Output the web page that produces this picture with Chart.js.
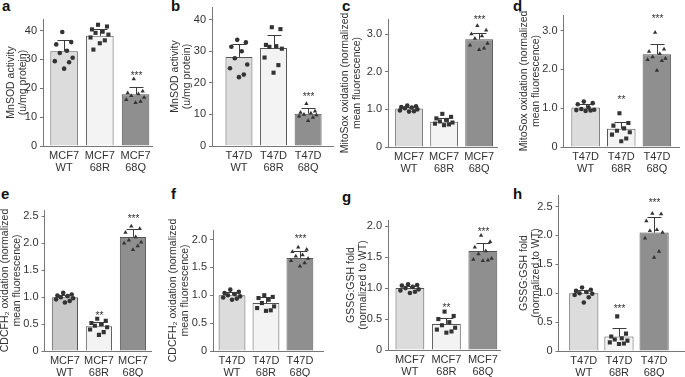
<!DOCTYPE html>
<html>
<head>
<meta charset="utf-8">
<script src="https://cdn.jsdelivr.net/npm/chart.js@4.4.0/dist/chart.umd.min.js"></script>
<style>
  body { margin: 0; background: #fff; width: 685px; height: 377px; position: relative; overflow: hidden;
         font-family: 'Liberation Sans', Arial, sans-serif; }
  .letter { position: absolute; font-weight: bold; font-size: 15px; line-height: 15px; color: #111; }
  canvas { position: absolute; }
</style>
</head>
<body>
<script>
// ---- data ----
const mcf7Labels = [['MCF7', 'WT'], ['MCF7', '68R'], ['MCF7', '68Q']];
const t47dLabels = [['T47D', 'WT'], ['T47D', '68R'], ['T47D', '68Q']];

const ticksActivity = [0, 10, 20, 30, 40];
const ticksMito = [0, 1, 2, 3];
const ticksHalf25 = [0, 0.5, 1, 1.5, 2, 2.5];
const ticksHalf20 = [0, 0.5, 1, 1.5, 2];

// a  MnSOD activity, MCF7
const aMeans = [32.8, 38.2, 17.9];
const aSD = [4.0, 2.2, 2.4];
const aWT = [39.5, 36.0, 35.2, 33.0, 32.2, 30.6, 29.4, 29.0, 26.8];
const a68R = [42.0, 41.4, 40.4, 39.6, 39.2, 38.6, 37.6, 36.6, 35.6, 33.4];
const a68Q = [23.2, 19.0, 18.4, 18.0, 17.4, 16.8, 16.0, 15.4, 15.0];
const aStars = ['', '', '***'];

// b  MnSOD activity, T47D
const bMeans = [28.2, 31.0, 10.2];
const bSD = [4.2, 4.2, 1.8];
const bWT = [33.6, 32.8, 31.4, 30.0, 27.8, 25.8, 24.6, 22.6, 21.8];
const b68R = [37.6, 37.0, 32.0, 31.6, 31.4, 30.8, 28.0, 25.6, 23.2];
const b68Q = [13.4, 11.0, 10.6, 10.4, 10.0, 9.8, 9.4, 9.0, 8.0];
const bStars = ['', '', '***'];

// c  MitoSox, MCF7
const cMeans = [1.02, 0.67, 2.86];
const cSD = [0.04, 0.10, 0.18];
const cWT = [1.10, 1.08, 1.06, 1.05, 1.03, 1.00, 0.97, 0.95, 0.94];
const c68R = [0.88, 0.80, 0.76, 0.72, 0.68, 0.65, 0.62, 0.60, 0.58];
const c68Q = [3.22, 3.10, 3.00, 2.95, 2.88, 2.75, 2.70, 2.62, 2.58];
const cStars = ['', '', '***'];

// d  MitoSox, T47D
const dMeans = [1.02, 0.47, 2.39];
const dSD = [0.08, 0.18, 0.26];
const dWT = [1.17, 1.13, 1.10, 1.02, 0.98, 0.96, 0.95, 0.94, 0.93];
const d68R = [0.87, 0.62, 0.55, 0.48, 0.42, 0.38, 0.32, 0.22, 0.15];
const d68Q = [2.95, 2.52, 2.46, 2.40, 2.32, 2.28, 2.25, 2.22, 1.97];
const dStars = ['', '**', '***'];

// e  CDCFH2, MCF7
const eMeans = [1.00, 0.46, 2.12];
const eSD = [0.04, 0.08, 0.14];
const eWT = [1.08, 1.05, 1.03, 1.02, 1.00, 0.98, 0.96, 0.93, 0.90];
const e68R = [0.60, 0.56, 0.52, 0.50, 0.47, 0.44, 0.40, 0.35, 0.30];
const e68Q = [2.32, 2.27, 2.20, 2.12, 2.06, 2.02, 2.00, 1.95, 1.88];
const eStars = ['', '**', '***'];

// f  CDCFH2, T47D
const fMeans = [1.00, 0.86, 1.67];
const fSD = [0.05, 0.11, 0.13];
const fWT = [1.10, 1.06, 1.04, 1.02, 1.00, 0.98, 0.96, 0.94, 0.92];
const f68R = [1.00, 0.97, 0.95, 0.92, 0.86, 0.80, 0.77, 0.73, 0.72];
const f68Q = [1.86, 1.82, 1.78, 1.72, 1.70, 1.66, 1.62, 1.58, 1.52];
const fStars = ['', '', '***'];

// g  GSSG:GSH, MCF7
const gMeans = [1.00, 0.42, 1.60];
const gSD = [0.04, 0.10, 0.13];
const gWT = [1.06, 1.05, 1.04, 1.02, 1.00, 0.98, 0.96, 0.94, 0.92];
const g68R = [0.62, 0.55, 0.50, 0.45, 0.40, 0.36, 0.33, 0.30, 0.28];
const g68Q = [1.85, 1.75, 1.66, 1.60, 1.55, 1.48, 1.46, 1.45, 1.44];
const gStars = ['', '**', '***'];

// h  GSSG:GSH, T47D
const hMeans = [1.00, 0.25, 2.05];
const hSD = [0.05, 0.14, 0.27];
const hWT = [1.10, 1.06, 1.04, 1.02, 1.00, 0.99, 0.97, 0.93, 0.84];
const h68R = [0.60, 0.30, 0.25, 0.22, 0.20, 0.18, 0.15, 0.13, 0.12];
const h68Q = [2.38, 2.37, 2.25, 2.10, 2.08, 2.05, 1.95, 1.72, 1.62];
const hStars = ['', '***', '***'];

// ---- layout / style ----
const FONT = "'Liberation Sans', Arial, sans-serif";
const TEXT = '#333';
const AXIS = '#777';
const barColors = ['#dcdcdc', '#f3f3f3', '#8f8f8f'];
const markerStyles = ['circle', 'rect', 'triangle'];
const markerRadius = [2.3, 2.9, 2.5];
const jitter = [-0.05, 0.2, -0.22, 0.08, -0.12, 0.24, -0.26, 0.14, 0.0, -0.18];
const TP = 22, XH = 32, RP = 4, TITLE_LH = 12;

const panels = [
  { id: 'a', lx: 2, ly: -2, cats: mcf7Labels, title: ['MnSOD activity', '(u/mg protein)'], ticks: ticksActivity, dec: false,
    yMax: 44, means: aMeans, sd: aSD, pts: [aWT, a68R, a68Q], stars: aStars, starY: [0, 0, 24],
    box: { left: 43, top: 19, bottom: 146, right: 152, titleX: 11, xMin: -0.59, xMax: 2.46, bar: 0.77 } },
  { id: 'b', lx: 171, ly: -2, cats: t47dLabels, title: ['MnSOD activity', '(u/mg protein)'], ticks: ticksActivity, dec: false,
    yMax: 44, means: bMeans, sd: bSD, pts: [bWT, b68R, b68Q], stars: bStars, starY: [0, 0, 15.5],
    box: { left: 212, top: 7, bottom: 146, right: 333, titleX: 175, xMin: -0.78, xMax: 2.72, bar: 0.78 } },
  { id: 'c', lx: 342, ly: -2, cats: mcf7Labels, title: ['MitoSox oxidation (normalized', 'mean fluorescence)'], ticks: ticksMito, dec: true,
    yMax: 3.4, means: cMeans, sd: cSD, pts: [cWT, c68R, c68Q], stars: cStars, starY: [0, 0, 3.36],
    box: { left: 388, top: 19, bottom: 147, right: 497, titleX: 345, xMin: -0.6, xMax: 2.51, bar: 0.79 } },
  { id: 'd', lx: 513, ly: -2, cats: t47dLabels, title: ['MitoSox oxidation (normalized', 'mean fluorescence)'], ticks: ticksMito, dec: true,
    yMax: 3.4, means: dMeans, sd: dSD, pts: [dWT, d68R, d68Q], stars: dStars, starY: [0, 1.2, 3.3],
    box: { left: 563, top: 15, bottom: 147, right: 678, titleX: 523.5, xMin: -0.62, xMax: 2.62, bar: 0.8 } },
  { id: 'e', lx: 1, ly: 186, cats: mcf7Labels, title: ['CDCFH\u2082 oxidation (normalized', 'mean fluorescence)'], ticks: ticksHalf25, dec: true,
    yMax: 2.62, means: eMeans, sd: eSD, pts: [eWT, e68R, e68Q], stars: eStars, starY: [0, 0.65, 2.45], wt: '#c9c9c9',
    box: { left: 44, top: 210, bottom: 351, right: 150, titleX: 4.5, xMin: -0.6, xMax: 2.53, bar: 0.77 } },
  { id: 'f', lx: 171, ly: 186, cats: t47dLabels, title: ['CDCFH\u2082 oxidation (normalized', 'mean fluorescence)'], ticks: ticksHalf20, dec: true,
    yMax: 2.17, means: fMeans, sd: fSD, pts: [fWT, f68R, f68Q], stars: fStars, starY: [0, 0, 2.0],
    box: { left: 213, top: 230, bottom: 351, right: 323, titleX: 173, xMin: -0.56, xMax: 2.68, bar: 0.79 } },
  { id: 'g', lx: 342, ly: 189, cats: mcf7Labels, title: ['GSSG:GSH fold', '(normalized to WT)'], ticks: ticksHalf20, dec: true,
    yMax: 2.1, means: gMeans, sd: gSD, pts: [gWT, g68R, g68Q], stars: gStars, starY: [0, 0.67, 1.9],
    box: { left: 388, top: 220, bottom: 350, right: 500, titleX: 351, xMin: -0.6, xMax: 2.47, bar: 0.79 } },
  { id: 'h', lx: 513, ly: 186, cats: t47dLabels, title: ['GSSG:GSH fold', '(normalized to WT)'], ticks: ticksHalf25, dec: true,
    yMax: 2.7, means: hMeans, sd: hSD, pts: [hWT, h68R, h68Q], stars: hStars, starY: [0, 0.72, 2.55],
    box: { left: 558, top: 195, bottom: 351, right: 683, titleX: 523.5, xMin: -0.72, xMax: 2.85, bar: 0.83 } }
];

// error bars + significance stars, drawn through the chart's scales
function makeMarks(p) {
  return {
    id: 'marks_' + p.id,
    afterDatasetsDraw(chart) {
      const { ctx, scales: { x, y } } = chart;
      ctx.save();
      ctx.strokeStyle = '#3c3c3c';
      ctx.lineWidth = 1;
      ctx.fillStyle = TEXT;
      ctx.font = '10px ' + FONT;
      ctx.textAlign = 'center';
      ctx.textBaseline = 'middle';
      p.means.forEach((m, i) => {
        const px = Math.round(x.getPixelForValue(i)) + 0.5;
        const y0 = y.getPixelForValue(m);
        const y1 = Math.round(y.getPixelForValue(m + p.sd[i])) + 0.5;
        ctx.beginPath();
        ctx.moveTo(px, y0);
        ctx.lineTo(px, y1);
        ctx.moveTo(px - 7, y1);
        ctx.lineTo(px + 7, y1);
        ctx.stroke();
        if (p.stars[i]) ctx.fillText(p.stars[i], px, y.getPixelForValue(p.starY[i]));
      });
      ctx.restore();
    }
  };
}

panels.forEach(p => {
  const b = p.box;
  const cLeft = b.titleX - TITLE_LH / 2;
  const yw = b.left - cLeft;
  const cTop = b.top - TP;
  const w = Math.round(b.right - b.left + yw + RP);
  const h = Math.round(b.bottom - b.top + TP + XH);

  const letter = document.createElement('div');
  letter.className = 'letter';
  letter.textContent = p.id;
  letter.style.left = p.lx + 'px';
  letter.style.top = p.ly + 'px';
  document.body.appendChild(letter);

  const cv = document.createElement('canvas');
  cv.width = w; cv.height = h;
  cv.style.left = cLeft + 'px';
  cv.style.top = cTop + 'px';
  document.body.appendChild(cv);

  const colors = barColors.slice();
  if (p.wt) colors[0] = p.wt;

  const datasets = [{
    type: 'bar',
    data: p.means.map((m, i) => ({ x: i, y: m })),
    backgroundColor: colors,
    borderColor: '#555',
    borderWidth: 1,
    categoryPercentage: 1,
    barPercentage: b.bar,
    order: 2
  }];
  p.pts.forEach((vals, g) => {
    datasets.push({
      type: 'scatter',
      data: vals.map((v, k) => ({ x: g + jitter[k % jitter.length], y: v })),
      pointStyle: markerStyles[g],
      pointRadius: markerRadius[g],
      backgroundColor: '#333',
      borderWidth: 0,
      order: 1
    });
  });

  new Chart(cv, {
    type: 'bar',
    data: { datasets },
    options: {
      responsive: false,
      animation: false,
      events: [],
      layout: { padding: { top: TP, right: RP, left: 0, bottom: 0 } },
      plugins: { legend: { display: false }, tooltip: { enabled: false } },
      scales: {
        x: {
          type: 'linear',
          offset: false,
          min: b.xMin,
          max: b.xMax,
          afterBuildTicks: s => { s.ticks = [0, 1, 2].map(v => ({ value: v })); },
          afterFit: s => { s.height = XH; s.paddingLeft = 0; s.paddingRight = 0; },
          grid: { display: false, drawTicks: false },
          border: { display: true, color: AXIS, width: 1 },
          ticks: {
            padding: 4,
            color: TEXT,
            maxRotation: 0,
            autoSkip: false,
            font: { family: FONT, size: 11, lineHeight: 1.1 },
            callback: v => p.cats[v]
          }
        },
        y: {
          min: 0,
          max: p.yMax,
          afterBuildTicks: s => { s.ticks = p.ticks.map(v => ({ value: v })); },
          afterFit: s => { s.width = yw; },
          grid: { display: true, drawOnChartArea: false, drawTicks: true, tickLength: 3, color: AXIS },
          border: { display: true, color: AXIS, width: 1 },
          ticks: {
            padding: 3,
            color: TEXT,
            font: { family: FONT, size: 11 },
            callback: v => (v === 0 || !p.dec) ? String(v) : v.toFixed(1)
          },
          title: {
            display: true,
            text: p.title,
            color: TEXT,
            padding: 0,
            font: { family: FONT, size: 10.5, lineHeight: TITLE_LH / 10.5 }
          }
        }
      }
    },
    plugins: [makeMarks(p)]
  });
});
</script>
</body>
</html>
